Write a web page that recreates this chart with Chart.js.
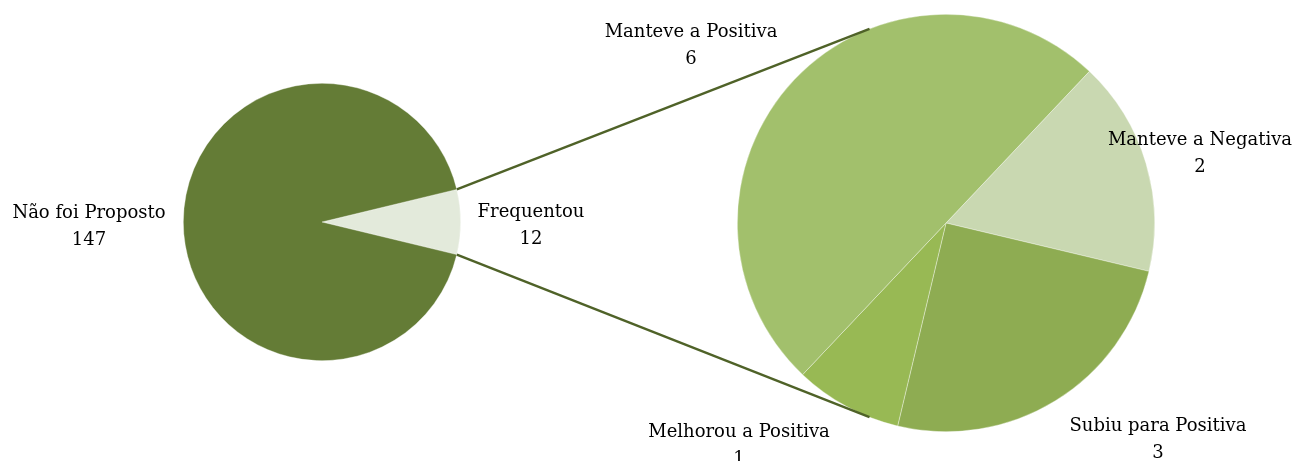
<!DOCTYPE html>
<html>
<head>
<meta charset="utf-8">
<script src="https://cdn.jsdelivr.net/npm/chart.js@4.4.1/dist/chart.umd.min.js"></script>
<style>
    html, body { margin: 0; padding: 0; background: #ffffff; }
    #wrap { position: relative; width: 1295px; height: 461px; overflow: hidden; }
    #wrap canvas { position: absolute; }
    #leftChart { left: 182px; top: 82px; }
    #rightChart { left: 736px; top: 13px; }
    #overlay { left: 0; top: 0; pointer-events: none; }
</style>
</head>
<body>
<div id="wrap">
    <canvas id="leftChart" width="280" height="280"></canvas>
    <canvas id="rightChart" width="420" height="420"></canvas>
    <canvas id="overlay" width="1295" height="461"></canvas>
</div>
<script>
// main pie
const mainLabels = ['Frequentou', 'Não foi Proposto'];
const mainValues = [12, 147];
const mainColors = ['#e3eadb', '#647c36'];

// breakdown of "Frequentou"
const detailLabels = ['Manteve a Negativa', 'Subiu para Positiva', 'Melhorou a Positiva', 'Manteve a Positiva'];
const detailValues = [2, 3, 1, 6];
const detailColors = ['#c9d8b1', '#8eac52', '#98b954', '#a2c06c'];

const labelFont = '18px "DejaVu Serif", "Liberation Serif", serif';
const lineColor = '#4f6228';

// label offsets from the pie centre, per slice (name line; value sits below)
const mainLabelOffsets = [[209, -10], [-233, -9]];
const detailLabelOffsets = [[254, -83], [212, 203], [-207, 209], [-255, -191]];

let leftChartInstance = null;
let rightChartInstance = null;

function makePie(canvasId, labels, values, colors, rotation) {
    const ctx = document.getElementById(canvasId).getContext('2d');
    return new Chart(ctx, {
        type: 'pie',
        data: {
            labels: labels,
            datasets: [{
                data: values,
                backgroundColor: colors,
                borderColor: 'rgba(255,255,255,0.6)',
                borderWidth: 0.6
            }]
        },
        options: {
            responsive: false,
            animation: false,
            rotation: rotation,
            layout: { padding: 1 },
            plugins: {
                legend: { display: false },
                tooltip: { enabled: false }
            }
        }
    });
}

function pageCenter(chart, canvasId) {
    const canvas = document.getElementById(canvasId);
    const arc = chart.getDatasetMeta(0).data[0];
    return { x: canvas.offsetLeft + arc.x, y: canvas.offsetTop + arc.y, r: arc.outerRadius };
}

function drawOverlay() {
    const ctx = document.getElementById('overlay').getContext('2d');
    const left = pageCenter(leftChartInstance, 'leftChart');
    const right = pageCenter(rightChartInstance, 'rightChart');
    const freqArc = leftChartInstance.getDatasetMeta(0).data[0];

    // connectors from the edges of "Frequentou" to the second pie
    const spread = 68.5 * Math.PI / 180;
    const targets = [Math.PI + spread, Math.PI - spread];
    const sources = [freqArc.startAngle, freqArc.endAngle];
    ctx.strokeStyle = lineColor;
    ctx.lineWidth = 2.4;
    for (let i = 0; i < 2; i++) {
        ctx.beginPath();
        ctx.moveTo(left.x + left.r * Math.cos(sources[i]), left.y + left.r * Math.sin(sources[i]));
        ctx.lineTo(right.x + right.r * Math.cos(targets[i]), right.y + right.r * Math.sin(targets[i]));
        ctx.stroke();
    }

    ctx.fillStyle = '#000000';
    ctx.font = labelFont;
    ctx.textAlign = 'center';
    ctx.textBaseline = 'middle';
    drawLabels(ctx, left, mainLabels, mainValues, mainLabelOffsets);
    drawLabels(ctx, right, detailLabels, detailValues, detailLabelOffsets);
}

function drawLabels(ctx, center, labels, values, offsets) {
    for (let i = 0; i < labels.length; i++) {
        const x = center.x + offsets[i][0];
        const y = center.y + offsets[i][1];
        ctx.fillText(labels[i], x, y);
        ctx.fillText(String(values[i]), x, y + 27);
    }
}

leftChartInstance = makePie('leftChart', mainLabels, mainValues, mainColors,
    90 - (mainValues[0] / (mainValues[0] + mainValues[1])) * 180);
rightChartInstance = makePie('rightChart', detailLabels, detailValues, detailColors, 43.4);
drawOverlay();
</script>
</body>
</html>
